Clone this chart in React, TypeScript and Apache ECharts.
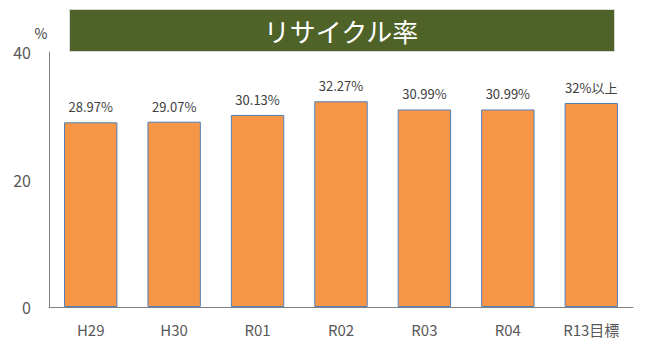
import React, { useEffect, useRef } from "react";
import * as echarts from "echarts";

const categories = ["H29", "H30", "R01", "R02", "R03", "R04", "R13目標"];
const values = [28.97, 29.07, 30.13, 32.27, 30.99, 30.99, 32];
const valueLabels = ["28.97%", "29.07%", "30.13%", "32.27%", "30.99%", "30.99%", "32%以上"];
const titleText = "リサイクル率";
const unitText = "%";

export default function App() {
  const ref = useRef<HTMLDivElement>(null);
  useEffect(() => {
    if (!ref.current) return;
    const chart = echarts.init(ref.current, null, { renderer: "svg" });
    const font = '"Noto Sans CJK JP", "Noto Sans", sans-serif';
    chart.setOption({
      animation: false,
      backgroundColor: "#ffffff",
      grid: { left: 49, right: 27, top: 52, bottom: 44, containLabel: false },
      xAxis: {
        type: "category",
        data: categories,
        axisLine: { lineStyle: { color: "#808080", width: 1 } },
        axisTick: { show: false },
        axisLabel: { color: "#595959", fontSize: 15, fontFamily: font, margin: 15 },
      },
      yAxis: {
        type: "value",
        min: 0,
        max: 40,
        interval: 20,
        axisLine: { show: true, lineStyle: { color: "#808080", width: 1 } },
        axisTick: { show: false },
        splitLine: { show: false },
        axisLabel: { color: "#595959", fontSize: 16, fontFamily: font, margin: 18 },
      },
      series: [
        {
          type: "bar",
          data: values,
          barWidth: "64%",
          itemStyle: { color: "#F79646", borderColor: "#4F81BD", borderWidth: 1 },
          label: {
            show: true,
            position: "top",
            distance: 9,
            color: "#404040",
            fontSize: 13,
            fontFamily: font,
            formatter: (p: any) => valueLabels[p.dataIndex],
          },
        },
      ],
      graphic: [
        {
          type: "rect",
          left: 69,
          top: 9,
          shape: { width: 545, height: 42 },
          style: { fill: "#4F6228", stroke: "#d9d9d9", lineWidth: 1 },
        },
        {
          type: "text",
          x: 341,
          y: 30,
          style: {
            text: titleText,
            fill: "#ffffff",
            fontSize: 26,
            fontFamily: font,
            align: "center",
            verticalAlign: "middle",
          },
        },
        {
          type: "text",
          x: 41,
          y: 33,
          style: {
            text: unitText,
            fill: "#404040",
            fontSize: 14,
            fontFamily: font,
            align: "center",
            verticalAlign: "middle",
          },
        },
      ],
    });
    return () => chart.dispose();
  }, []);
  return <div ref={ref} style={{ width: 660, height: 351, margin: -8 }} />;
}
